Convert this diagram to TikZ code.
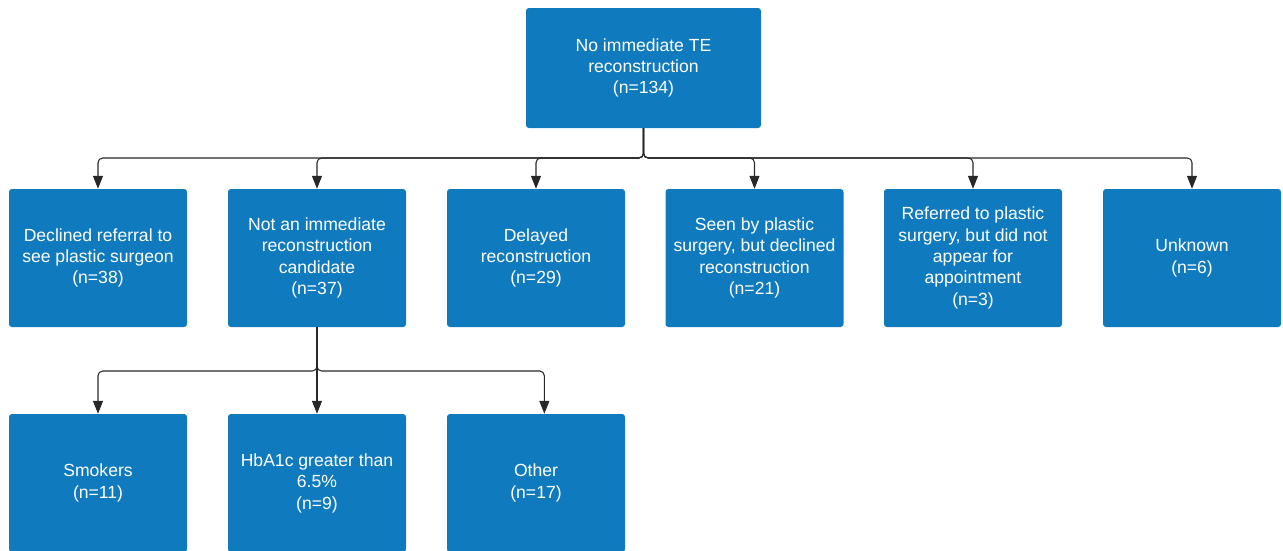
\documentclass[tikz,border=0pt]{standalone}
\usepackage{fontspec}
\setmainfont{Liberation Sans}
\usetikzlibrary{arrows.meta}
\definecolor{boxblue}{RGB}{16,122,190}
\definecolor{linegray}{RGB}{40,40,40}

\begin{document}
\begin{tikzpicture}[
		box/.style={fill=boxblue,rounded corners=2.5pt,text=white,align=center,
			minimum width=5.34cm,minimum height=4.14cm,inner sep=2pt,
			font=\fontsize{15}{18.3}\selectfont},
		topbox/.style={box,minimum width=7.05cm,minimum height=3.6cm},
		link/.style={draw=linegray,line width=0.9pt,rounded corners=4pt,
			-{Triangle[width=8.5pt,length=11pt]}}
	]
		\useasboundingbox (0,0) rectangle (38.49,-16.5);
		% top
		\node[topbox] (top) at (19.305,-2.04) {No immediate TE\\reconstruction\\(n=134)};
		% second row
		\node[box] (declined) at (2.94,-7.74) {Declined referral to\\see plastic surgeon\\(n=38)};
		\node[box] (notcand) at (9.51,-7.74) {Not an immediate\\reconstruction\\candidate\\(n=37)};
		\node[box] (delayed) at (16.08,-7.74) {Delayed\\reconstruction\\(n=29)};
		\node[box] (seen) at (22.635,-7.74) {Seen by plastic\\surgery, but declined\\reconstruction\\(n=21)};
		\node[box] (noshow) at (29.19,-7.74) {Referred to plastic\\surgery, but did not\\appear for\\appointment\\(n=3)};
		\node[box] (unknown) at (35.76,-7.74) {Unknown\\(n=6)};
		% third row
		\node[box] (smokers) at (2.94,-14.49) {Smokers\\(n=11)};
		\node[box] (hba) at (9.51,-14.49) {HbA1c greater than\\6.5\%\\(n=9)};
		\node[box] (other) at (16.08,-14.49) {Other\\(n=17)};
		% bus lines
		\coordinate (bus) at (19.305,-4.74);
		\coordinate (subbus) at (9.51,-11.13);
		\foreach \child in {declined,notcand,delayed,seen,noshow,unknown}
			\draw[link] (top.south) -- (top.south |- bus) -| (\child.north);
		\draw[link] (notcand.south) -- (notcand.south |- subbus) -| (smokers.north);
		\draw[link] (notcand.south) -- (hba.north);
		\draw[link] (notcand.south) -- (notcand.south |- subbus) -| ([xshift=0.25cm]other.north);
	\end{tikzpicture}
\end{document}
